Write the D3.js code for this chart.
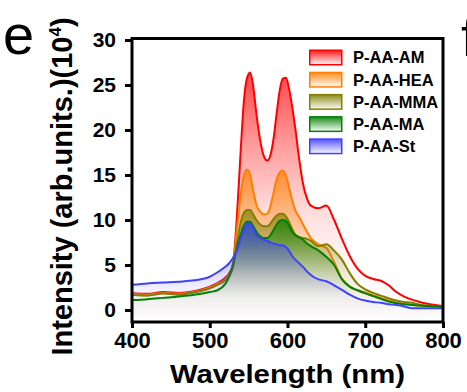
<!DOCTYPE html>
<html>
<head>
<meta charset="utf-8">
<script src="https://cdn.jsdelivr.net/npm/d3@7"></script>
<style>
  body { margin: 0; background: #fff; }
  svg { display: block; font-family: "Liberation Sans", Arial, sans-serif; }
</style>
</head>
<body>
<svg id="chart" width="467" height="392"></svg>
<script>
// wavelength grid (nm)
const wavelength = [400, 420, 440, 460, 480, 500, 510, 520, 525, 530,
  535, 540, 544, 548, 552, 556, 560, 565, 570, 574,
  578, 582, 586, 590, 594, 598, 602, 606, 610, 615,
  620, 625, 630, 640, 650, 660, 670, 680, 690, 700,
  710, 720, 730, 740, 750, 760, 770, 780, 790, 800];

// intensities (x10^4 arb. units)
const amValues = [1.9, 1.8, 2.0, 1.9, 2.1, 2.6, 3.0, 3.6, 4.1, 5.2,
  10.5, 18.0, 23.3, 25.8, 26.4, 24.8, 21.8, 18.8, 17.0, 16.6,
  17.2, 19.0, 21.8, 24.4, 25.7, 25.8, 24.6, 22.6, 20.2, 16.8,
  14.0, 12.4, 11.6, 11.3, 11.6, 10.0, 7.9, 6.0, 4.6, 3.8,
  3.45, 3.25, 2.75, 2.0, 1.5, 1.15, 0.9, 0.7, 0.55, 0.45];
const heaValues = [1.8, 1.7, 1.9, 1.8, 2.0, 2.5, 2.9, 3.4, 3.9, 5.0,
  9.0, 13.0, 15.0, 15.6, 15.0, 13.2, 11.7, 10.9, 10.6, 10.7,
  11.5, 13.0, 14.5, 15.3, 15.5, 14.9, 13.6, 12.2, 11.1, 10.3,
  9.5, 8.7, 8.0, 7.3, 6.9, 5.3, 3.5, 2.6, 2.2, 1.95,
  1.65, 1.35, 1.05, 0.85, 0.7, 0.6, 0.5, 0.45, 0.4, 0.35];
const mmaValues = [1.7, 1.6, 1.85, 1.7, 1.95, 2.4, 2.8, 3.3, 3.8, 4.8,
  7.5, 9.8, 10.8, 11.1, 11.1, 10.6, 10.0, 9.5, 9.3, 9.3,
  9.6, 10.1, 10.5, 10.7, 10.7, 10.4, 9.8, 9.0, 8.4, 8.1,
  8.0, 7.9, 7.7, 7.1, 7.3, 6.6, 5.6, 4.1, 2.9, 2.3,
  1.9, 1.6, 1.3, 1.05, 0.9, 0.8, 0.6, 0.5, 0.45, 0.4];
const maValues = [1.1, 1.2, 1.35, 1.5, 1.7, 2.0, 2.2, 2.9, 3.7, 5.0,
  7.0, 8.5, 9.4, 9.8, 9.8, 9.3, 8.7, 8.2, 8.0, 8.0,
  8.3, 8.9, 9.5, 9.9, 10.0, 9.9, 9.4, 8.7, 8.3, 8.1,
  7.8, 7.4, 7.1, 6.6, 5.9, 5.0, 3.4, 2.6, 2.2, 1.85,
  1.55, 1.25, 0.95, 0.75, 0.65, 0.55, 0.5, 0.45, 0.42, 0.4];
const stValues = [2.8, 2.95, 3.05, 3.15, 3.3, 3.7, 4.2, 4.8, 5.2, 5.8,
  6.6, 8.0, 9.0, 9.6, 9.6, 9.0, 8.4, 8.0, 7.8, 7.7,
  7.5, 7.4, 7.3, 7.2, 7.2, 7.0, 6.6, 6.0, 5.6, 5.2,
  4.8, 4.3, 3.9, 3.4, 3.2, 2.75, 2.25, 1.7, 1.3, 1.05,
  0.9, 0.8, 0.65, 0.55, 0.4, 0.2, 0.2, 0.2, 0.2, 0.2];

const seriesNames = ["P-AA-AM", "P-AA-HEA", "P-AA-MMA", "P-AA-MA", "P-AA-St"];
const seriesValues = [amValues, heaValues, mmaValues, maValues, stValues];
const seriesColors = ["#ff0000", "#ff8000", "#808000", "#008000", "#4040ff"];

const xTicks = [400, 500, 600, 700, 800];
const yTicks = [0, 5, 10, 15, 20, 25, 30];

const svg = d3.select("#chart");

const x = d3.scaleLinear().domain([400, 800]).range([132, 443]);
const y = d3.scaleLinear().domain([-1.33, 30]).range([322, 40]);

const defs = svg.append("defs");
defs.append("clipPath").attr("id", "plotclip")
  .append("rect").attr("x", 132).attr("y", 38).attr("width", 311).attr("height", 284);

// fill fades quickly from the top of each curve towards the axis
const fadeStops = [[0, 0.72], [0.3, 0.38], [0.55, 0.14], [0.75, 0.03], [1, 0.0]];
seriesColors.forEach((c, i) => {
  const g = defs.append("linearGradient").attr("id", "fill" + i)
    .attr("x1", 0).attr("y1", 0).attr("x2", 0).attr("y2", 1);
  fadeStops.forEach(([o, a]) => {
    g.append("stop").attr("offset", o).attr("stop-color", c).attr("stop-opacity", a);
  });
  const s = defs.append("linearGradient").attr("id", "swatch" + i)
    .attr("x1", 0).attr("y1", 0).attr("x2", 0).attr("y2", 1);
  s.append("stop").attr("offset", "0%").attr("stop-color", c).attr("stop-opacity", 0.9);
  s.append("stop").attr("offset", "100%").attr("stop-color", c).attr("stop-opacity", 0.03);
});

const area = d3.area()
  .x((d) => x(d[0]))
  .y0(y(-1.33))
  .y1((d) => y(d[1]))
  .curve(d3.curveMonotoneX);
const line = d3.line()
  .x((d) => x(d[0]))
  .y((d) => y(d[1]))
  .curve(d3.curveMonotoneX);

const plot = svg.append("g").attr("clip-path", "url(#plotclip)");
seriesValues.forEach((vals, i) => {
  const pts = wavelength.map((w, j) => [w, vals[j]]);
  plot.append("path").attr("d", area(pts)).attr("fill", `url(#fill${i})`);
  plot.append("path").attr("d", line(pts))
    .attr("fill", "none")
    .attr("stroke", seriesColors[i])
    .attr("stroke-width", 2);
});

// frame
svg.append("rect")
  .attr("x", 132).attr("y", 38.5).attr("width", 311).attr("height", 283.5)
  .attr("fill", "none").attr("stroke", "#000").attr("stroke-width", 3);

const xAxis = svg.append("g")
  .attr("transform", "translate(0,322)")
  .call(d3.axisBottom(x).tickValues(xTicks).tickSize(6).tickPadding(4));
const yAxis = svg.append("g")
  .attr("transform", "translate(132,0)")
  .call(d3.axisLeft(y).tickValues(yTicks).tickSize(7).tickPadding(9));

[xAxis, yAxis].forEach((ax) => {
  ax.select(".domain").remove();
  ax.selectAll(".tick line").attr("stroke", "#000").attr("stroke-width", 3);
  ax.selectAll(".tick text")
    .attr("fill", "#000")
    .style("font-family", "'Liberation Sans', Arial, sans-serif")
    .style("font-weight", "bold");
});
xAxis.selectAll(".tick text").style("font-size", "22px");
yAxis.selectAll(".tick text").style("font-size", "21px");

svg.append("text")
  .attr("x", 287.5).attr("y", 383)
  .attr("text-anchor", "middle")
  .attr("textLength", 235).attr("lengthAdjust", "spacingAndGlyphs")
  .style("font-size", "26px").style("font-weight", "bold")
  .text("Wavelength (nm)");

const yTitle = svg.append("text")
  .attr("transform", "translate(72,186.5) rotate(-90)")
  .attr("text-anchor", "middle")
  .style("font-size", "29px").style("font-weight", "bold");
yTitle.append("tspan").text("Intensity (arb.units.)(10");
yTitle.append("tspan").attr("dy", -11).style("font-size", "17px").text("4");
yTitle.append("tspan").attr("dy", 11).text(")");

// panel letters (the "f" belongs to the next panel and is cut by the edge)
svg.append("text").attr("x", 3).attr("y", 54)
  .style("font-size", "56px").text("e");
svg.append("text").attr("x", 461).attr("y", 56)
  .style("font-size", "56px").text("f");

// legend
const legend = svg.append("g").selectAll("g")
  .data(seriesNames)
  .enter()
  .append("g")
  .attr("transform", (_, i) => `translate(309,${49.5 + i * 22.2})`);
legend.append("rect")
  .attr("x", 0.75).attr("y", 0.75).attr("width", 32).attr("height", 14.5)
  .attr("fill", (_, i) => `url(#swatch${i})`)
  .attr("stroke", (_, i) => seriesColors[i])
  .attr("stroke-width", 1.5);
legend.append("text")
  .attr("x", 44).attr("y", 13.8)
  .style("font-size", "16.5px").style("font-weight", "bold")
  .text((d) => d);
</script>
</body>
</html>
